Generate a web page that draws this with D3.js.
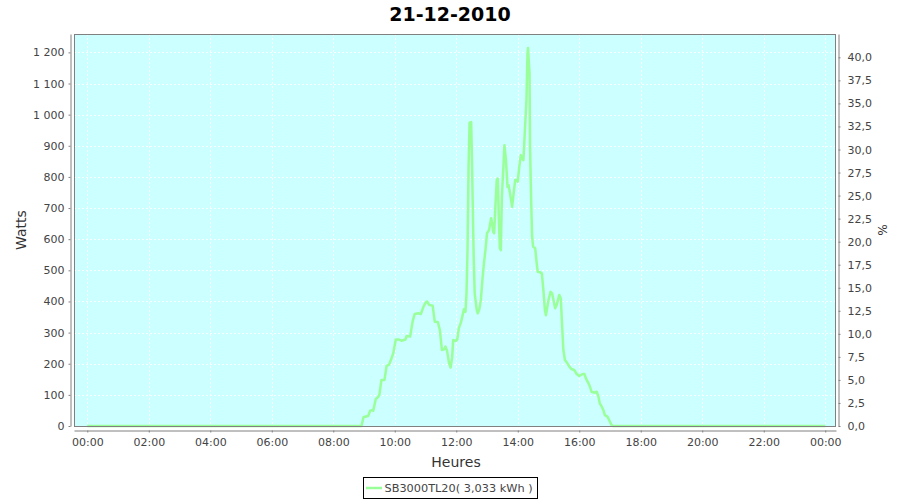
<!DOCTYPE html>
<html><head><meta charset="utf-8">
<script src="https://d3js.org/d3.v7.min.js"></script>
<style>body{margin:0;background:#fff}svg{display:block}text{font-family:"DejaVu Sans",sans-serif}</style>
</head><body><svg id="c" width="900" height="500"></svg>
<script>
const title = "21-12-2010";
const seriesName = "SB3000TL20( 3,033 kWh )";
const times = ["00:00","08:55","08:59","09:02","09:08","09:12","09:16","09:18","09:23","09:27","09:30","09:34","09:40","09:44","09:49","09:54","09:57","10:02","10:07","10:13","10:21","10:23","10:30","10:35","10:39","10:46","10:51","10:56","11:00","11:03","11:07","11:14","11:18","11:24","11:28","11:32","11:36","11:39","11:42","11:46","11:49","11:52","11:54","11:59","12:02","12:05","12:09","12:12","12:15","12:18","12:20","12:22","12:24","12:26","12:29","12:30","12:32","12:34","12:36","12:40","12:42","12:45","12:48","12:51","12:54","12:57","13:00","13:04","13:08","13:10","13:12","13:14","13:16","13:19","13:21","13:23","13:25","13:27","13:29","13:32","13:34","13:37","13:40","13:42","13:45","13:47","13:49","13:52","13:55","13:58","14:00","14:03","14:06","14:08","14:11","14:13","14:15","14:17","14:19","14:20","14:23","14:24","14:26","14:28","14:30","14:34","14:37","14:39","14:43","14:47","14:50","14:53","14:55","15:00","15:04","15:07","15:13","15:16","15:21","15:24","15:26","15:29","15:32","15:35","15:41","15:45","15:50","15:55","16:00","16:07","16:10","16:13","16:18","16:21","16:24","16:29","16:34","16:37","16:40","16:44","16:47","16:50","16:55","16:59","17:03","17:06","24:00"];
const watts = [0,0,28,30,32,49,51,49,87,92,100,148,148,193,197,219,233,278,278,274,278,289,287,337,360,362,360,383,396,400,389,386,335,334,308,244,246,255,242,201,188,221,276,273,278,314,332,353,375,367,426,565,833,974,976,908,726,544,426,372,362,375,405,469,522,565,619,629,667,651,624,619,694,790,795,672,571,565,736,833,902,854,768,774,747,726,704,747,790,790,785,833,870,859,854,918,983,1047,1197,1214,1133,897,736,608,576,571,522,495,494,490,437,372,356,405,431,426,378,389,421,410,340,244,212,206,190,183,180,167,161,167,167,153,137,126,110,107,110,97,73,62,51,35,30,17,3,0,0];
const xTickHours = [0,2,4,6,8,10,12,14,16,18,20,22,24];
const xTickLabels = ["00:00","02:00","04:00","06:00","08:00","10:00","12:00","14:00","16:00","18:00","20:00","22:00","00:00"];
const wattTicks = [0,100,200,300,400,500,600,700,800,900,1000,1100,1200];
const pctTicks = [0,2.5,5,7.5,10,12.5,15,17.5,20,22.5,25,27.5,30,32.5,35,37.5,40];

const svg = d3.select("#c");
const L = 74, R = 836, T = 34, B = 426;
const toH = s => { const [h,m] = s.split(":").map(Number); return h + m/60; };
const data = times.map((t,i)=>({h:toH(t), w:watts[i]}));

const x = d3.scaleLinear().domain([-0.432, 24.35]).range([L, R]);
const y = d3.scaleLinear().domain([0, 1259]).range([B, T]);
const y2 = d3.scaleLinear().domain([0, 42.53]).range([B, T]);

svg.append("rect").attr("x",L).attr("y",T).attr("width",R-L).attr("height",B-T).attr("fill","#ccffff");

// grid
const g = svg.append("g").attr("stroke","#ffffff").attr("stroke-width",1).attr("stroke-dasharray","2,2").attr("opacity",0.85);
wattTicks.forEach(v=>g.append("line").attr("x1",L).attr("x2",R).attr("y1",Math.round(y(v))+0.5).attr("y2",Math.round(y(v))+0.5));
xTickHours.forEach(v=>g.append("line").attr("y1",T).attr("y2",B).attr("x1",Math.round(x(v))+0.5).attr("x2",Math.round(x(v))+0.5));

// line
svg.append("path").datum(data)
  .attr("d", d3.line().x(d=>x(d.h)).y(d=>y(d.w)))
  .attr("fill","none").attr("stroke","#99ff99").attr("stroke-width",2.5).attr("stroke-linejoin","round");

svg.append("rect").attr("x",L+0.5).attr("y",T+0.5).attr("width",R-L-1).attr("height",B-T).attr("fill","none").attr("stroke","#808080");

const axisStyle = sel => {
  sel.select(".domain").attr("stroke","#808080");
  sel.selectAll(".tick line").attr("stroke","#808080");
  sel.selectAll(".tick text").attr("fill","#444").style("font-family","DejaVu Sans").style("font-size","11px");
};

// left axis
svg.append("g").attr("transform",`translate(${L-3.5},0)`)
  .call(d3.axisLeft(y).tickValues(wattTicks).tickSize(2).tickSizeOuter(0).tickPadding(4)
    .tickFormat(d=>d3.format(",")(d).replace(/,/g," ")))
  .call(axisStyle);
// right axis
svg.append("g").attr("transform",`translate(${R+2.5},0)`)
  .call(d3.axisRight(y2).tickValues(pctTicks).tickSize(2).tickSizeOuter(0).tickPadding(7)
    .tickFormat(d=>d.toFixed(1).replace(".",",")))
  .call(axisStyle);
// bottom axis
svg.append("g").attr("transform",`translate(0,${B+4.5})`)
  .call(d3.axisBottom(x).tickValues(xTickHours).tickSize(2).tickSizeOuter(0).tickPadding(6)
    .tickFormat((d,i)=>xTickLabels[i]))
  .call(axisStyle);

// titles
svg.append("text").attr("x",450).attr("y",21).attr("text-anchor","middle")
  .style("font-size","19px").style("font-weight","bold").attr("fill","#000").text(title);
svg.append("text").attr("x",456).attr("y",467).attr("text-anchor","middle")
  .style("font-size","14px").attr("fill","#333").text("Heures");
svg.append("text").attr("transform","translate(26,230) rotate(-90)").attr("text-anchor","middle")
  .style("font-size","14px").attr("fill","#333").text("Watts");
svg.append("text").attr("transform","translate(878,230) rotate(90)").attr("text-anchor","middle")
  .style("font-size","12px").attr("fill","#333").text("%");

// legend
const lg = svg.append("g");
lg.append("rect").attr("x",363.5).attr("y",477.5).attr("width",174).attr("height",21).attr("fill","#fff").attr("stroke","#000");
lg.append("line").attr("x1",366).attr("x2",382).attr("y1",488).attr("y2",488).attr("stroke","#99ff99").attr("stroke-width",2.5);
lg.append("text").attr("x",384.5).attr("y",492).style("font-size","11.3px").attr("fill","#444").text(seriesName);
</script></body></html>
